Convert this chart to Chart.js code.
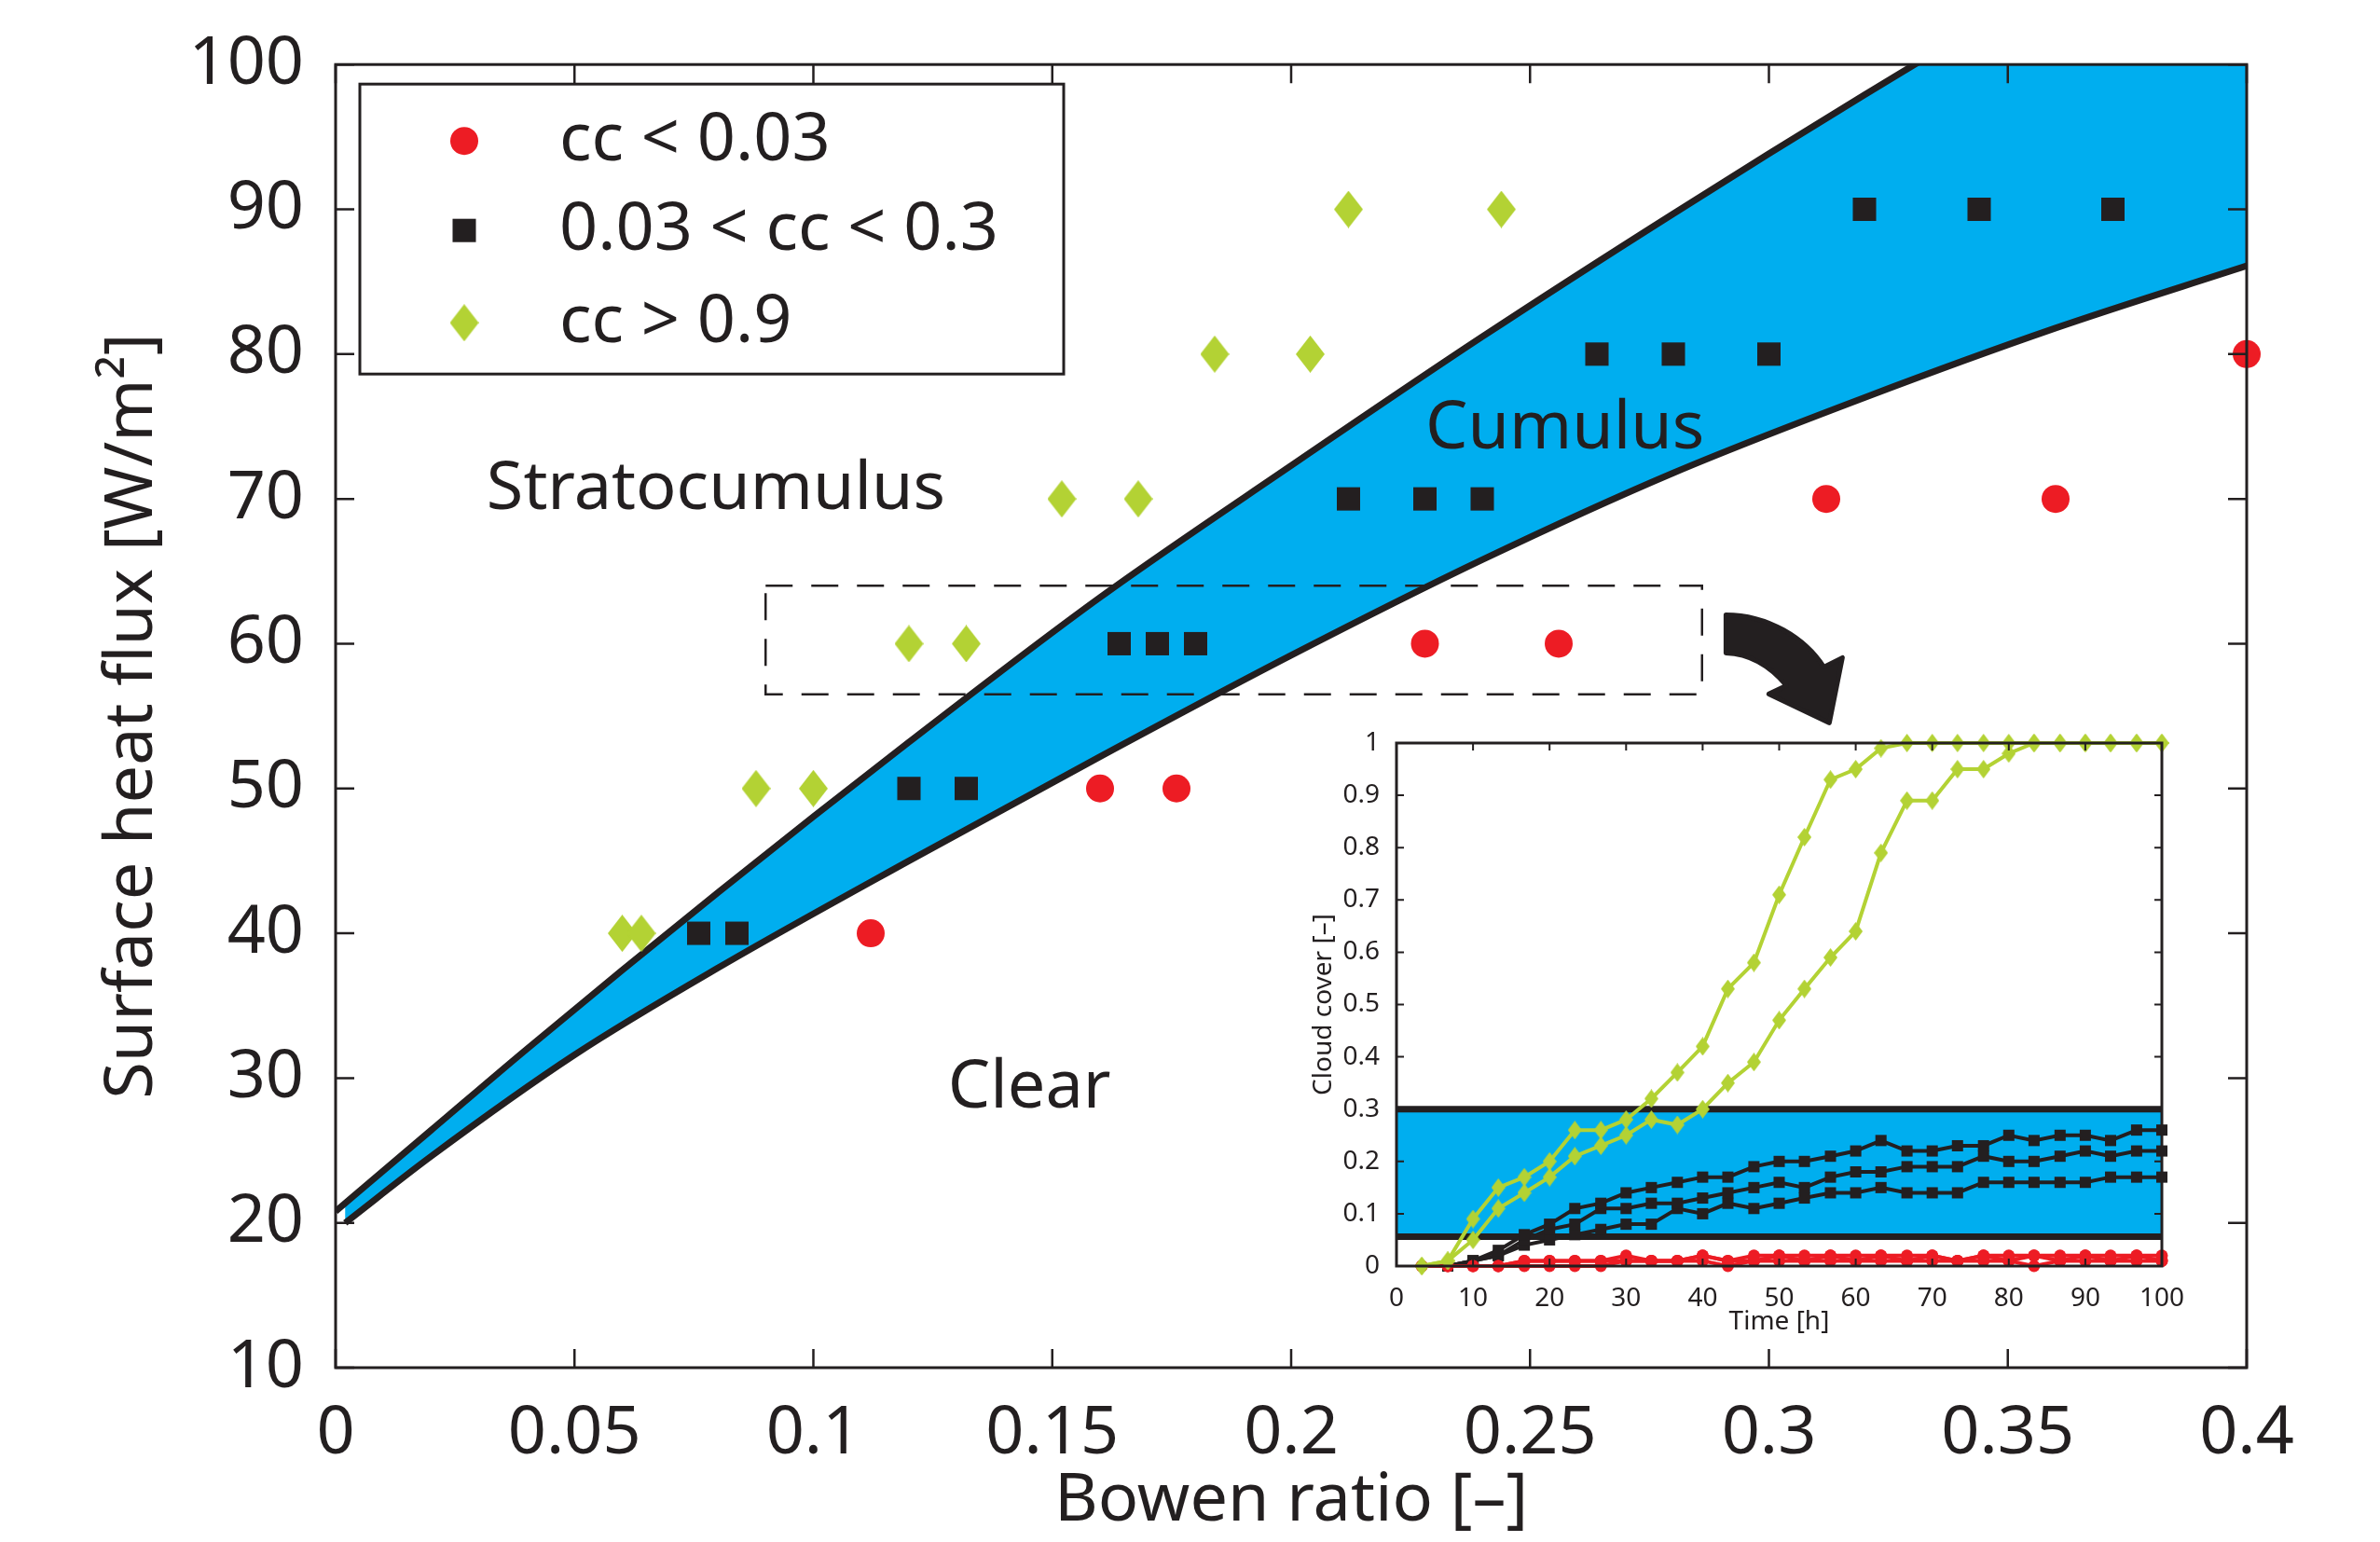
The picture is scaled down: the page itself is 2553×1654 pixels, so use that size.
<!DOCTYPE html>
<html>
<head>
<meta charset="utf-8">
<script src="https://cdn.jsdelivr.net/npm/chart.js@4.4.0/dist/chart.umd.min.js"></script>
<style>
  html, body { margin: 0; padding: 0; background: #fff; }
  #wrap { position: relative; width: 2553px; height: 1654px; }
  #main { position: absolute; left: 0; top: 0; }
  #inset { position: absolute; left: 1380px; top: 770px; }
</style>
</head>
<body>
<div id="wrap">
  <canvas id="main" width="2553" height="1654"></canvas>
  <canvas id="inset" width="980" height="690"></canvas>
</div>
<script>
/* Régimen de nubes: flujo de calor vs. Bowen ratio, con inset de cobertura */
const FONT = "'Noto Sans', 'Open Sans', sans-serif";
const INK = '#231f20';
const RED = '#ed1c24';
const GREEN = '#b3d234';
const BLUE = '#00aeef';

// ---- main panel
const bowenTicks = [0, 0.05, 0.1, 0.15, 0.2, 0.25, 0.3, 0.35, 0.4];
const fluxTicks = [10, 20, 30, 40, 50, 60, 70, 80, 90, 100];

const legendLabels = ['cc < 0.03', '0.03 < cc < 0.3', 'cc > 0.9'];

const clearBowen = [0.112, 0.16, 0.176, 0.228, 0.256, 0.312, 0.36, 0.4];
const clearFlux = [40, 50, 50, 60, 60, 70, 70, 80];
const cuBowen = [0.076, 0.084, 0.12, 0.132, 0.164, 0.172, 0.18, 0.212, 0.228, 0.24, 0.264, 0.28, 0.3, 0.32, 0.344, 0.372];
const cuFlux = [40, 40, 50, 50, 60, 60, 60, 70, 70, 70, 80, 80, 80, 90, 90, 90];
const scBowen = [0.06, 0.064, 0.088, 0.1, 0.12, 0.132, 0.152, 0.168, 0.184, 0.204, 0.212, 0.244];
const scFlux = [40, 40, 50, 50, 60, 60, 70, 70, 80, 80, 90, 90];

// edges of the cumulus band
const upperBowen = [0, 0.02, 0.04, 0.08, 0.12, 0.16, 0.2, 0.24, 0.28, 0.32, 0.36, 0.4];
const upperFlux = [20.8, 26.4, 32.0, 42.8, 53.2, 63.2, 72.3, 81.2, 89.7, 97.9, 105.8, 113.5];
const lowerBowen = [0.002, 0.02, 0.05, 0.08, 0.12, 0.16, 0.2, 0.24, 0.28, 0.32, 0.36, 0.4];
const lowerFlux = [20, 24.6, 31.6, 37.6, 45.0, 52.2, 59.2, 65.8, 71.8, 77.0, 81.8, 86.1];

// dashed window that the inset zooms into
const windowBowen = [0.09, 0.286, 0.286, 0.09, 0.09];
const windowFlux = [64, 64, 56.5, 56.5, 64];

const regionNames = ['Stratocumulus', 'Cumulus', 'Clear'];

// ---- inset: cloud cover vs time
const timeTicks = [0, 10, 20, 30, 40, 50, 60, 70, 80, 90, 100];
const coverTicks = [0, 0.1, 0.2, 0.3, 0.4, 0.5, 0.6, 0.7, 0.8, 0.9, 1];
const timeH = [3.3, 6.7, 10, 13.3, 16.7, 20, 23.3, 26.7, 30, 33.3,
  36.7, 40, 43.3, 46.7, 50, 53.3, 56.7, 60, 63.3, 66.7,
  70, 73.3, 76.7, 80, 83.3, 86.7, 90, 93.3, 96.7, 100];

const clear1 = [0, 0, 0, 0, 0.01, 0.01, 0.01, 0.01, 0.02, 0.01,
  0.01, 0.02, 0.01, 0.02, 0.02, 0.02, 0.02, 0.02, 0.02, 0.02,
  0.02, 0.01, 0.02, 0.02, 0.02, 0.02, 0.02, 0.02, 0.02, 0.02];
const clear2 = [0, 0, 0, 0, 0.01, 0.01, 0.01, 0.01, 0.01, 0.01,
  0.01, 0.02, 0.01, 0.01, 0.02, 0.01, 0.02, 0.01, 0.02, 0.01,
  0.02, 0.01, 0.02, 0.01, 0.02, 0.01, 0.02, 0.01, 0.02, 0.01];
const clear3 = [0, 0, 0, 0, 0, 0, 0, 0, 0.01, 0.01,
  0.01, 0.01, 0, 0.01, 0.01, 0.01, 0.01, 0.01, 0.01, 0.01,
  0.01, 0.01, 0.01, 0.01, 0, 0.01, 0.01, 0.01, 0.01, 0.01];

const cumA = [null, 0, 0.01, 0.03, 0.06, 0.08, 0.11, 0.12, 0.14, 0.15,
  0.16, 0.17, 0.17, 0.19, 0.20, 0.20, 0.21, 0.22, 0.24, 0.22,
  0.22, 0.23, 0.23, 0.25, 0.24, 0.25, 0.25, 0.24, 0.26, 0.26];
const cumB = [null, 0, 0.01, 0.02, 0.05, 0.07, 0.08, 0.11, 0.11, 0.12,
  0.12, 0.13, 0.14, 0.15, 0.16, 0.15, 0.17, 0.18, 0.18, 0.19,
  0.19, 0.19, 0.21, 0.20, 0.20, 0.21, 0.22, 0.21, 0.22, 0.22];
const cumC = [null, 0, 0.01, 0.02, 0.04, 0.05, 0.06, 0.07, 0.08, 0.08,
  0.11, 0.10, 0.12, 0.11, 0.12, 0.13, 0.14, 0.14, 0.15, 0.14,
  0.14, 0.14, 0.16, 0.16, 0.16, 0.16, 0.16, 0.17, 0.17, 0.17];

const strat1 = [0, 0.01, 0.09, 0.15, 0.17, 0.20, 0.26, 0.26, 0.28, 0.32,
  0.37, 0.42, 0.53, 0.58, 0.71, 0.82, 0.93, 0.95, 0.99, 1,
  1, 1, 1, 1, 1, 1, 1, 1, 1, 1];
const strat2 = [0, 0.01, 0.05, 0.11, 0.14, 0.17, 0.21, 0.23, 0.25, 0.28,
  0.27, 0.30, 0.35, 0.39, 0.47, 0.53, 0.59, 0.64, 0.79, 0.89,
  0.89, 0.95, 0.95, 0.98, 1, 1, 1, 1, 1, 1];

const bandTime = [0, 100];
const bandHigh = [0.3, 0.3];
const bandLow = [0.056, 0.056];

// ---------------------------------------------------------------
Chart.defaults.font.family = FONT;
Chart.defaults.color = INK;

const pts = (xs, ys) => xs.map((x, i) => ({ x, y: ys[i] }));

function diamond(w, h, color) {
  const c = document.createElement('canvas');
  c.width = w; c.height = h;
  const g = c.getContext('2d');
  g.fillStyle = color;
  g.beginPath();
  g.moveTo(w / 2, 0); g.lineTo(w, h / 2); g.lineTo(w / 2, h); g.lineTo(0, h / 2);
  g.closePath(); g.fill();
  return c;
}
const bigDiamond = diamond(31, 40, GREEN);
const smallDiamond = diamond(15, 20, GREEN);

// box + inward ticks on all four sides
const framePlugin = {
  id: 'frame',
  afterDatasetsDraw(chart, args, o) {
    const { ctx, chartArea: a, scales: { x, y } } = chart;
    ctx.save();
    ctx.strokeStyle = INK;
    ctx.lineWidth = o.tickWidth;
    ctx.beginPath();
    x.ticks.forEach((t) => {
      const px = x.getPixelForValue(t.value);
      ctx.moveTo(px, a.bottom); ctx.lineTo(px, a.bottom - o.tickLen);
      ctx.moveTo(px, a.top); ctx.lineTo(px, a.top + o.tickLen);
    });
    y.ticks.forEach((t) => {
      const py = y.getPixelForValue(t.value);
      ctx.moveTo(a.left, py); ctx.lineTo(a.left + o.tickLen, py);
      ctx.moveTo(a.right, py); ctx.lineTo(a.right - o.tickLen, py);
    });
    ctx.stroke();
    ctx.lineWidth = o.lineWidth;
    ctx.strokeRect(a.left, a.top, a.width, a.height);
    ctx.restore();
  },
};

const boxLegend = {
  id: 'boxLegend',
  afterDraw(chart, args, o) {
    const { ctx, chartArea: a } = chart;
    const L = a.left + o.left, T = a.top + o.top;
    ctx.save();
    ctx.fillStyle = '#fff';
    ctx.fillRect(L, T, o.width, o.height);
    ctx.strokeStyle = INK;
    ctx.lineWidth = o.lineWidth;
    ctx.strokeRect(L, T, o.width, o.height);
    ctx.font = `${o.fontSize}px ${FONT}`;
    ctx.textAlign = 'left';
    ctx.textBaseline = 'middle';
    chart.data.datasets.slice(0, 3).forEach((ds, i) => {
      const cy = T + o.rows[i];
      ctx.fillStyle = ds.pointBackgroundColor || INK;
      Chart.helpers.drawPoint(ctx, { pointStyle: ds.pointStyle, radius: ds.pointRadius, rotation: 0, borderWidth: 0 }, L + o.markerX, cy);
      ctx.fillStyle = INK;
      ctx.fillText(ds.label, L + o.textX, cy);
    });
    ctx.restore();
  },
};

const regionText = {
  id: 'regionText',
  afterDatasetsDraw(chart, args, o) {
    const { ctx, scales: { x, y } } = chart;
    ctx.save();
    ctx.fillStyle = INK;
    ctx.font = `${o.fontSize}px ${FONT}`;
    ctx.textAlign = 'center';
    ctx.textBaseline = 'middle';
    o.items.forEach((it) => ctx.fillText(it.text, x.getPixelForValue(it.x), y.getPixelForValue(it.y)));
    ctx.restore();
  },
};

// curved arrow pointing from the dashed window to the inset
const arrowPlugin = {
  id: 'arrow',
  afterDatasetsDraw(chart, args, o) {
    const { ctx, scales: { x, y } } = chart;
    const ox = x.getPixelForValue(o.x), oy = y.getPixelForValue(o.y);
    const P = (dx, dy) => [ox + dx, oy + dy];
    ctx.save();
    ctx.fillStyle = INK; ctx.strokeStyle = INK;
    ctx.lineWidth = 5; ctx.lineJoin = 'round';
    ctx.beginPath();
    ctx.moveTo(...P(0, 0));
    ctx.bezierCurveTo(...P(45, 0), ...P(85, 25), ...P(105, 56));
    ctx.lineTo(...P(125, 46));
    ctx.lineTo(...P(111, 116));
    ctx.lineTo(...P(46, 85));
    ctx.lineTo(...P(65, 76));
    ctx.bezierCurveTo(...P(50, 58), ...P(30, 42), ...P(0, 41));
    ctx.closePath();
    ctx.fill(); ctx.stroke();
    ctx.restore();
  },
};

const plotBg = {
  id: 'plotBg',
  beforeDraw(chart) {
    const { ctx, chartArea: a } = chart;
    ctx.save();
    ctx.fillStyle = '#fff';
    ctx.fillRect(a.left, a.top, a.width, a.height);
    ctx.restore();
  },
};

const bigFont = { size: 72, family: FONT };

new Chart(document.getElementById('main'), {
  type: 'scatter',
  data: {
    datasets: [
      { label: legendLabels[0], data: pts(clearBowen, clearFlux), pointStyle: 'circle', pointRadius: 15,
        pointBackgroundColor: RED, pointBorderWidth: 0, clip: false, order: 0 },
      { label: legendLabels[1], data: pts(cuBowen, cuFlux), pointStyle: 'rect', pointRadius: 17.7,
        pointBackgroundColor: INK, pointBorderWidth: 0, clip: false, order: 0 },
      { label: legendLabels[2], data: pts(scBowen, scFlux), pointStyle: bigDiamond, pointRadius: 20,
        pointBackgroundColor: GREEN, pointBorderWidth: 0, clip: false, order: 0 },
      { label: 'window', data: pts(windowBowen, windowFlux), showLine: true, pointRadius: 0,
        borderColor: INK, borderWidth: 2.5, borderDash: [29, 20], fill: false, order: 1 },
      { label: 'upper', data: pts(upperBowen, upperFlux), showLine: true, pointRadius: 0,
        borderColor: INK, borderWidth: 7, cubicInterpolationMode: 'monotone',
        fill: { target: '+1' }, backgroundColor: BLUE, order: 2 },
      { label: 'lower', data: pts(lowerBowen, lowerFlux), showLine: true, pointRadius: 0,
        borderColor: INK, borderWidth: 7, cubicInterpolationMode: 'monotone', fill: false, order: 2 },
    ],
  },
  options: {
    responsive: false,
    animation: false,
    events: [],
    layout: { padding: { left: 0, top: 65, right: 143, bottom: 0 } },
    plugins: {
      legend: { display: false },
      tooltip: { enabled: false },
      filler: { drawTime: 'beforeDatasetsDraw' },
      frame: { tickLen: 20, tickWidth: 2.5, lineWidth: 3 },
      boxLegend: { left: 26, top: 21, width: 755, height: 311, lineWidth: 3, fontSize: 72,
        rows: [61, 157, 256], markerX: 112, textX: 214 },
      regionText: {
        fontSize: 72,
        items: [
          { text: regionNames[0], x: 0.0796, y: 70.6 },
          { text: regionNames[1], x: 0.2573, y: 74.8 },
          { text: regionNames[2], x: 0.1452, y: 29.3 },
        ],
      },
      arrow: { x: 0.291, y: 62 },
    },
    scales: {
      x: {
        type: 'linear', min: 0, max: 0.4,
        afterFit: (s) => { s.height = 187; },
        afterBuildTicks: (s) => { s.ticks = bowenTicks.map((v) => ({ value: v })); },
        grid: { display: false }, border: { display: false },
        ticks: { font: bigFont, color: INK, padding: 20, autoSkip: false, maxRotation: 0,
          callback: (v) => String(Math.round(v * 100) / 100) },
        title: { display: true, text: 'Bowen ratio [–]', font: bigFont, color: INK, padding: { top: 0, bottom: 0 } },
      },
      y: {
        type: 'linear', min: 10, max: 100,
        afterFit: (s) => { s.width = 360; },
        afterBuildTicks: (s) => { s.ticks = fluxTicks.map((v) => ({ value: v })); },
        grid: { display: false }, border: { display: false },
        ticks: { font: bigFont, color: INK, padding: 26, autoSkip: false },
        title: { display: true, text: 'Surface heat flux [W/m²]', font: bigFont, color: INK, padding: { top: 99, bottom: 0 } },
      },
    },
  },
  plugins: [framePlugin, boxLegend, regionText, arrowPlugin],
});

// ---- inset
const smallFont = { size: 28, family: FONT };
const insetLine = (vals, color, style, radius, order) => ({
  data: pts(timeH, vals), showLine: true, borderColor: color, borderWidth: 4,
  pointStyle: style, pointRadius: radius, pointBackgroundColor: color, pointBorderWidth: 0,
  clip: false, spanGaps: false, order,
});

new Chart(document.getElementById('inset'), {
  type: 'scatter',
  data: {
    datasets: [
      insetLine(strat1, GREEN, smallDiamond, 10, 0),
      insetLine(strat2, GREEN, smallDiamond, 10, 0),
      insetLine(clear1, RED, 'circle', 6.5, 1),
      insetLine(clear2, RED, 'circle', 6.5, 1),
      insetLine(clear3, RED, 'circle', 6.5, 1),
      insetLine(cumA, INK, 'rect', 8.5, 2),
      insetLine(cumB, INK, 'rect', 8.5, 2),
      insetLine(cumC, INK, 'rect', 8.5, 2),
      { data: pts(bandTime, bandHigh), showLine: true, pointRadius: 0, borderColor: INK, borderWidth: 7,
        fill: { target: '+1' }, backgroundColor: BLUE, order: 3 },
      { data: pts(bandTime, bandLow), showLine: true, pointRadius: 0, borderColor: INK, borderWidth: 7,
        fill: false, order: 3 },
    ],
  },
  options: {
    responsive: false,
    animation: false,
    events: [],
    layout: { padding: { left: 0, top: 27, right: 41, bottom: 0 } },
    plugins: {
      legend: { display: false },
      tooltip: { enabled: false },
      filler: { drawTime: 'beforeDatasetsDraw' },
      frame: { tickLen: 8, tickWidth: 2, lineWidth: 3 },
    },
    scales: {
      x: {
        type: 'linear', min: 0, max: 100,
        afterFit: (s) => { s.height = 102; },
        afterBuildTicks: (s) => { s.ticks = timeTicks.map((v) => ({ value: v })); },
        grid: { display: false }, border: { display: false },
        ticks: { font: smallFont, color: INK, padding: 10, autoSkip: false, maxRotation: 0 },
        title: { display: true, text: 'Time [h]', font: smallFont, color: INK, padding: { top: 0, bottom: 25 } },
      },
      y: {
        type: 'linear', min: 0, max: 1,
        afterFit: (s) => { s.width = 118; },
        afterBuildTicks: (s) => { s.ticks = coverTicks.map((v) => ({ value: v })); },
        grid: { display: false }, border: { display: false },
        ticks: { font: smallFont, color: INK, padding: 10, autoSkip: false,
          callback: (v) => String(Math.round(v * 10) / 10) },
        title: { display: true, text: 'Cloud cover [–]', font: smallFont, color: INK, padding: { top: 23, bottom: 0 } },
      },
    },
  },
  plugins: [plotBg, framePlugin],
});
</script>
</body>
</html>
